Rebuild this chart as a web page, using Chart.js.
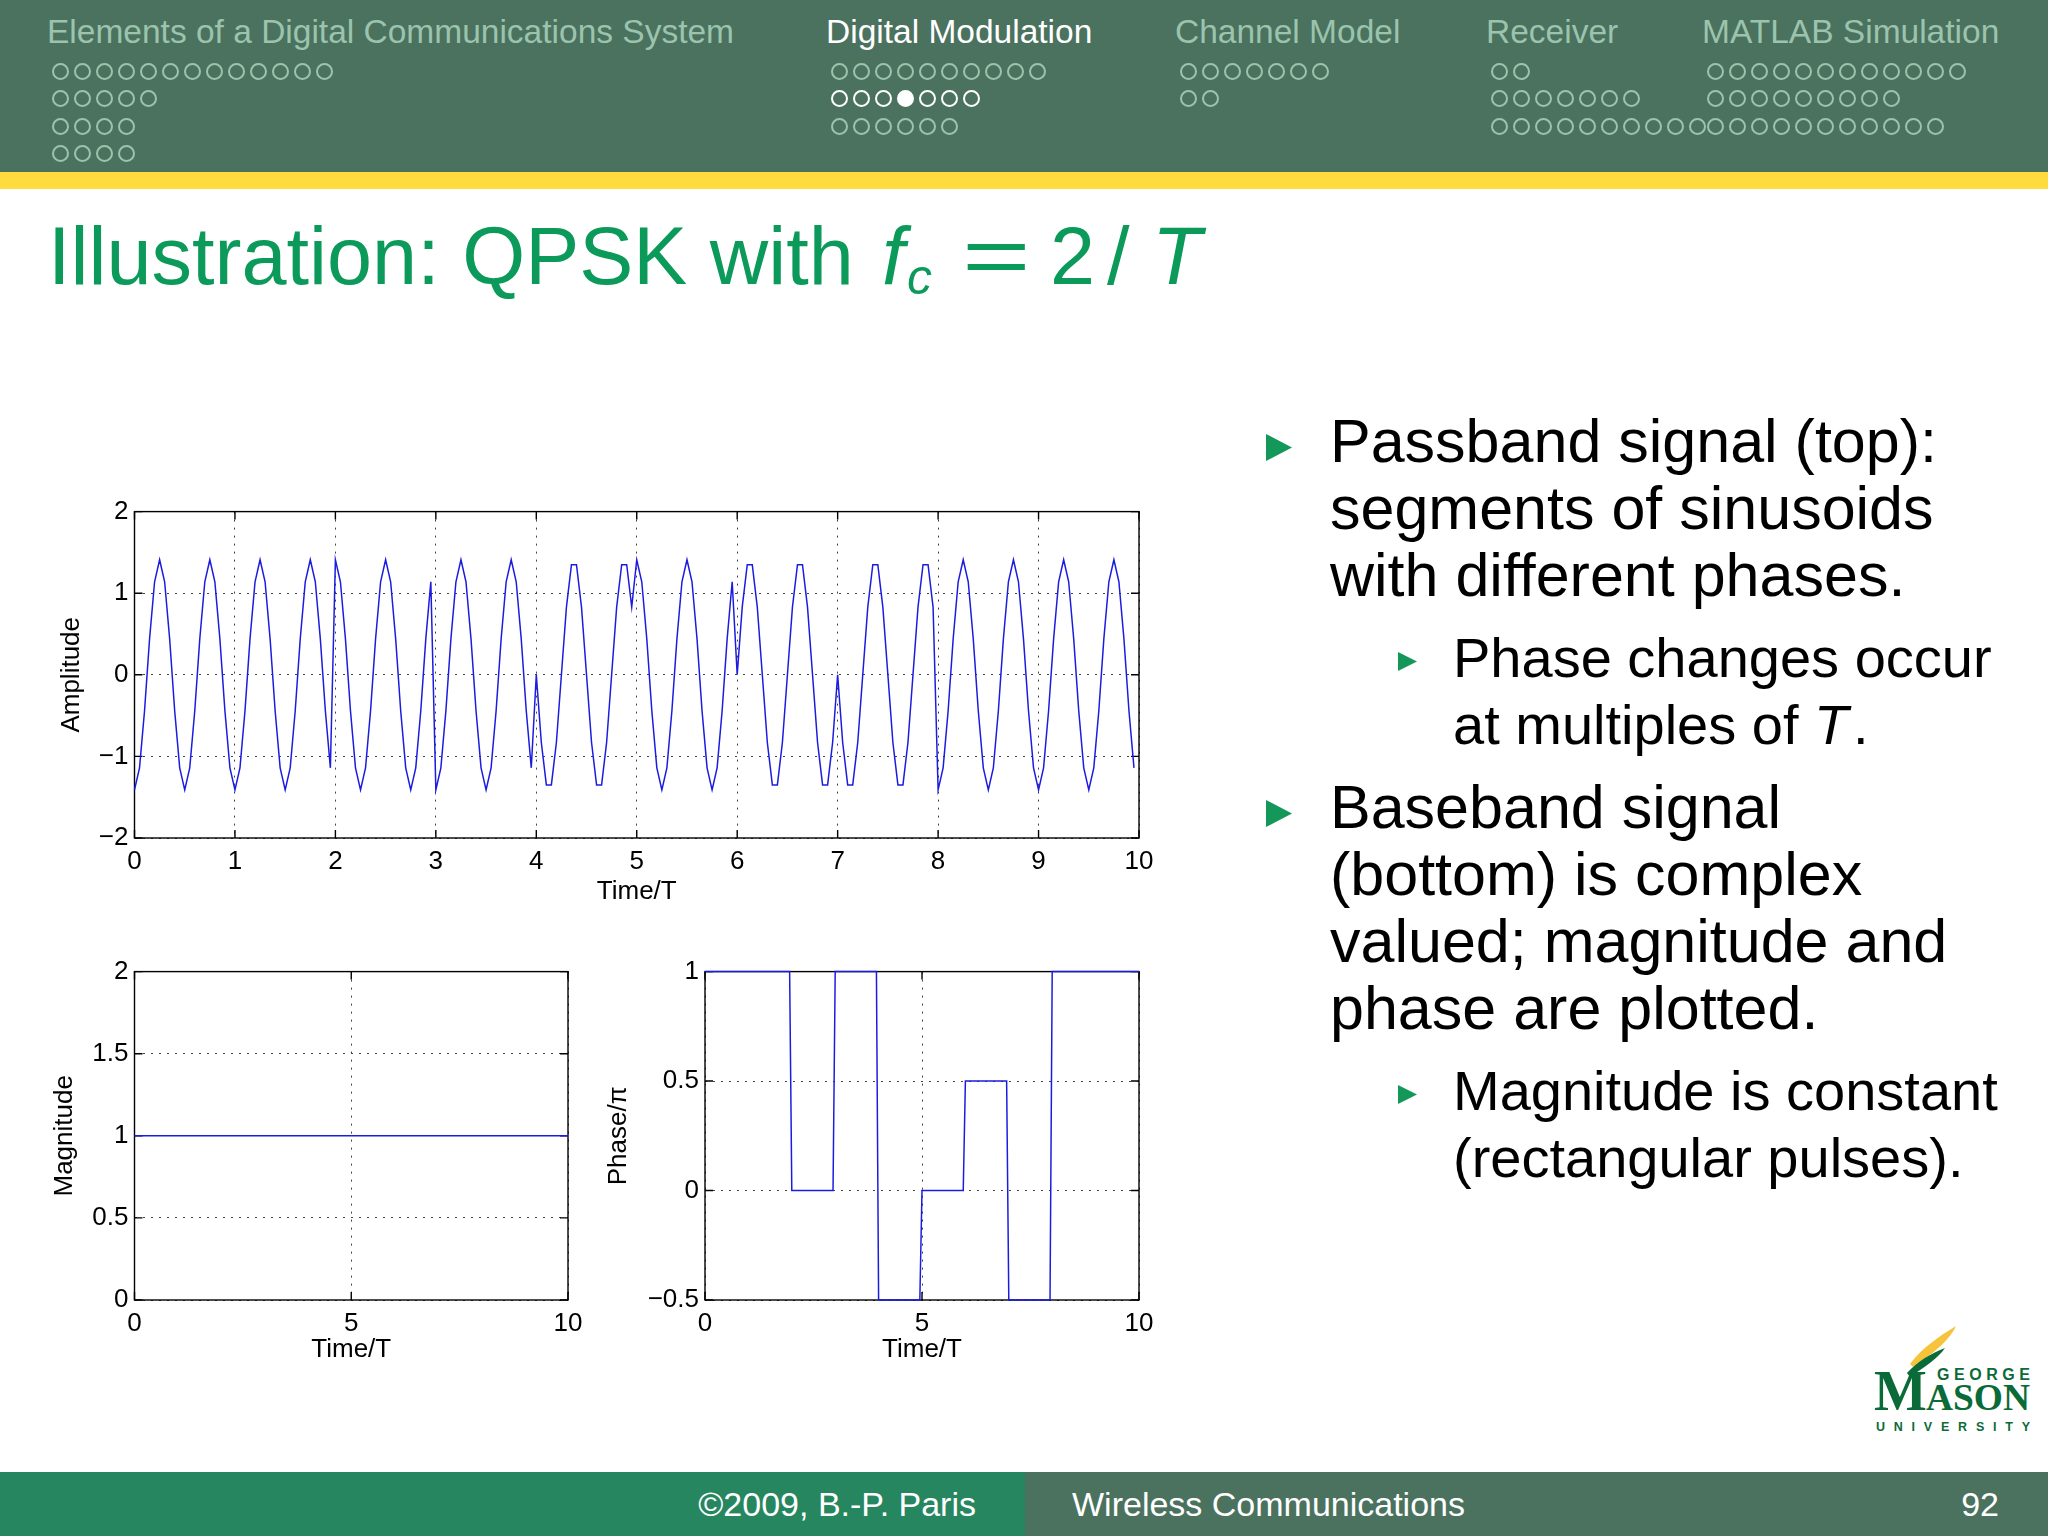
<!DOCTYPE html>
<html><head><meta charset="utf-8">
<script src="https://cdn.jsdelivr.net/npm/chart.js@4.4.1/dist/chart.umd.min.js"></script>
<style>
html,body{margin:0;padding:0;width:2048px;height:1536px;overflow:hidden;background:#fff;font-family:"Liberation Sans",Arial,sans-serif;}
.abs{position:absolute;white-space:nowrap;line-height:1;}
.band{position:absolute;}
.dot{position:absolute;width:13px;height:13px;border-radius:50%;border:2px solid #9cc3ad;box-sizing:content-box;}
canvas{position:absolute;}
</style>
</head><body>
<div class="band" style="left:0;top:0;width:2048px;height:172px;background:#4a725e"></div>
<div class="band" style="left:0;top:172px;width:2048px;height:17px;background:#fedc3e"></div>
<div class="band" style="left:0;top:1472px;width:1025px;height:64px;background:#268660"></div>
<div class="band" style="left:1025px;top:1472px;width:1023px;height:64px;background:#4a725e"></div>

<canvas id="cTop" width="1140" height="420" style="left:40px;top:490px;width:1140px;height:420px"></canvas>
<canvas id="cMag" width="580" height="420" style="left:20px;top:950px;width:580px;height:420px"></canvas>
<canvas id="cPh" width="580" height="420" style="left:600px;top:950px;width:580px;height:420px"></canvas>

<svg style="position:absolute;left:1860px;top:1315px" width="185" height="125" viewBox="0 0 185 125">
  <path d="M50,49 C62,33 78,22 96,11 C90,24 76,37 53,52 Z" fill="#f6c33a"/>
  <path d="M47,58 C58,46 70,39 85,33 C78,43 66,51 50,62 Z" fill="#0b6b38"/>
  <text x="14" y="95" font-family="Liberation Serif" font-weight="bold" font-size="56" fill="#0b6b38">M</text>
  <text x="66" y="95" font-family="Liberation Serif" font-weight="bold" font-size="38" fill="#0b6b38" textLength="104" lengthAdjust="spacingAndGlyphs">ASON</text>
  <text x="77" y="65" font-family="Liberation Sans" font-weight="bold" font-size="16" fill="#0b6b38" textLength="93">GEORGE</text>
  <text x="16" y="116" font-family="Liberation Sans" font-weight="bold" font-size="12.5" fill="#0b6b38" textLength="154">UNIVERSITY</text>
</svg>

<script>
// ---------------- data ----------------
// passband signal, 20 samples per symbol period T (t = 0 ... 9.95)
const amplitude = [
  -1.41,-1.14,-0.44,0.44,1.14,1.41,1.14,0.44,-0.44,-1.14, -1.41,-1.14,-0.44,0.44,1.14,1.41,1.14,0.44,-0.44,-1.14,
  -1.41,-1.14,-0.44,0.44,1.14,1.41,1.14,0.44,-0.44,-1.14, -1.41,-1.14,-0.44,0.44,1.14,1.41,1.14,0.44,-0.44,-1.14,
  1.41,1.14,0.44,-0.44,-1.14,-1.41,-1.14,-0.44,0.44,1.14, 1.41,1.14,0.44,-0.44,-1.14,-1.41,-1.14,-0.44,0.44,1.14,
  -1.41,-1.14,-0.44,0.44,1.14,1.41,1.14,0.44,-0.44,-1.14, -1.41,-1.14,-0.44,0.44,1.14,1.41,1.14,0.44,-0.44,-1.14,
  0,-0.83,-1.35,-1.35,-0.83,0,0.83,1.35,1.35,0.83, 0,-0.83,-1.35,-1.35,-0.83,0,0.83,1.35,1.35,0.83,
  1.41,1.14,0.44,-0.44,-1.14,-1.41,-1.14,-0.44,0.44,1.14, 1.41,1.14,0.44,-0.44,-1.14,-1.41,-1.14,-0.44,0.44,1.14,
  0,0.83,1.35,1.35,0.83,0,-0.83,-1.35,-1.35,-0.83, 0,0.83,1.35,1.35,0.83,0,-0.83,-1.35,-1.35,-0.83,
  0,-0.83,-1.35,-1.35,-0.83,0,0.83,1.35,1.35,0.83, 0,-0.83,-1.35,-1.35,-0.83,0,0.83,1.35,1.35,0.83,
  -1.41,-1.14,-0.44,0.44,1.14,1.41,1.14,0.44,-0.44,-1.14, -1.41,-1.14,-0.44,0.44,1.14,1.41,1.14,0.44,-0.44,-1.14,
  -1.41,-1.14,-0.44,0.44,1.14,1.41,1.14,0.44,-0.44,-1.14, -1.41,-1.14,-0.44,0.44,1.14,1.41,1.14,0.44,-0.44,-1.14
];
const samplesPerT = 20;
const magnitudeTimes = [0, 10];
const magnitudeValues = [1, 1];
const phaseTimes  = [0, 1.95, 2, 2.95, 3, 3.95, 4, 4.95, 5, 5.95, 6, 6.95, 7, 7.95, 8, 10];
const phaseValues = [1, 1,    0, 0,    1, 1,    -0.5, -0.5, 0, 0, 0.5, 0.5, -0.5, -0.5, 1, 1];

// ---------------- slide text ----------------
const sectionNames = ["Elements of a Digital Communications System","Digital Modulation","Channel Model","Receiver","MATLAB Simulation"];
const sectionX = [47, 826, 1175, 1486, 1702];
const sectionDots = [[13,5,4,4],[10,7,6],[7,2],[2,7,10],[12,9,11]];
const activeSection = 1, activeRow = 1, activeDot = 3;

function place(html, x, baseline, size, color, extra){
  const d=document.createElement('div');
  d.className='abs';
  d.style.left=x+'px';
  d.style.top=(baseline-0.8465*size)+'px';
  d.style.fontSize=size+'px';
  d.style.color=color;
  d.innerHTML=html;
  if(extra) Object.assign(d.style, extra);
  document.body.appendChild(d);
  return d;
}
const DIM='#9cc3ad';
sectionNames.forEach((n,i)=>{
  place(n, sectionX[i], 43, 33.5, i===activeSection?'#ffffff':DIM);
  sectionDots[i].forEach((cnt,r)=>{
    for(let k=0;k<cnt;k++){
      const d=document.createElement('div');
      d.className='dot';
      const cx=sectionX[i]+13+k*22, cy=71+r*27.5;
      d.style.left=(cx-8.5)+'px'; d.style.top=(cy-8.5)+'px';
      if(i===activeSection && r===activeRow){
        d.style.borderColor='#ffffff';
        if(k===activeDot) d.style.background='#ffffff';
      }
      document.body.appendChild(d);
    }
  });
});

// title
const G='#0b9a5a';
place('Illustration: QPSK with', 48, 285, 81, G);
place('<i>f</i>', 882, 285, 81, G);
place('<i>c</i>', 907, 294, 50, G);
place('=', 962, 285, 81, G, {transform:'scaleX(1.45)',transformOrigin:'left'});
place('2', 1050, 285, 81, G);
place('/', 1107, 285, 81, G);
place('<i>T</i>', 1152, 285, 81, G);

// bullets
const mainLines = [["Passband signal (top):",463,true],["segments of sinusoids",530],["with different phases.",597],
                   ["Baseband signal",829,true],["(bottom) is complex",896],["valued; magnitude and",963],["phase are plotted.",1030]];
const subLines = [["Phase changes occur",677,true],["at multiples of <i>T</i>&#8202;.",744],
                  ["Magnitude is constant",1110,true],["(rectangular pulses).",1177]];
function tri(x,cy,w,h){
  const s=document.createElementNS('http://www.w3.org/2000/svg','svg');
  s.setAttribute('width',w); s.setAttribute('height',h);
  s.style.position='absolute'; s.style.left=x+'px'; s.style.top=(cy-h/2)+'px';
  s.innerHTML=`<polygon points="0,0 ${w},${h/2} 0,${h}" fill="#14985a"/>`;
  document.body.appendChild(s);
}
mainLines.forEach(([t,b,bul])=>{ place(t,1330,b,61,'#000'); if(bul) tri(1266,b-16,26,27); });
subLines.forEach(([t,b,bul])=>{ place(t,1453,b,56,'#000'); if(bul) tri(1398,b-16,19,19); });

// footer
place('©2009, B.-P. Paris', 0, 1516, 34, '#fff', {left:'auto', right:(2048-976)+'px'});
place('Wireless Communications', 1072, 1516, 34, '#fff');
place('92', 0, 1516, 34, '#fff', {left:'auto', right:(2048-1999)+'px'});

// ---------------- charts ----------------
const FONT = "'Liberation Sans', Arial, sans-serif";
const fmt = v => (v < 0 ? '\u2212' + String(-v) : String(v));
const boxPlugin = {
  id:'matlabBox',
  beforeDatasetsDraw(chart){
    const {ctx, chartArea:a, scales:{x,y}} = chart;
    ctx.save();
    ctx.strokeStyle='#000'; ctx.lineWidth=1.4;
    ctx.strokeRect(a.left, a.top, a.right-a.left, a.bottom-a.top);
    const L=8;
    ctx.beginPath();
    x.ticks.forEach(t=>{const px=x.getPixelForValue(t.value); ctx.moveTo(px,a.bottom); ctx.lineTo(px,a.bottom-L); ctx.moveTo(px,a.top); ctx.lineTo(px,a.top+L);});
    y.ticks.forEach(t=>{const py=y.getPixelForValue(t.value); ctx.moveTo(a.left,py); ctx.lineTo(a.left+L,py); ctx.moveTo(a.right,py); ctx.lineTo(a.right-L,py);});
    ctx.stroke();
    ctx.restore();
  }
};
function xScale(step, h, pb){
  return {type:'linear',min:0,max:10,
    ticks:{stepSize:step,padding:8,color:'#000',font:{size:26,family:FONT},maxRotation:0,autoSkip:false,callback:fmt},
    grid:{color:'#444',drawTicks:false,lineWidth:1},border:{display:false,dash:[2,6]},
    title:{display:true,text:'Time/T',color:'#000',font:{size:26,family:FONT},padding:{top:0,bottom:pb}},
    afterFit(s){s.height=h;}};
}
function yScale(min,max,step,title,w,pt){
  return {type:'linear',min,max,
    ticks:{stepSize:step,padding:6,color:'#000',font:{size:26,family:FONT},callback:fmt},
    grid:{color:'#444',drawTicks:false,lineWidth:1},border:{display:false,dash:[2,6]},
    title:{display:true,text:title,color:'#000',font:{size:26,family:FONT},padding:{top:pt,bottom:0}},
    afterFit(s){s.width=w;}};
}
function lineDs(pts){
  return {data:pts,borderColor:'#1c1ce0',borderWidth:1.5,pointRadius:0,tension:0,fill:false,clip:4};
}
const baseOpts = (pad, xs, ys) => ({
  responsive:false, animation:false, devicePixelRatio:1,
  layout:{padding:pad},
  plugins:{legend:{display:false},tooltip:{enabled:false}},
  scales:{x:xs, y:ys}
});

const topPts = amplitude.map((v,i)=>({x:i/samplesPerT, y:v}));
new Chart(document.getElementById('cTop'), {
  type:'line', data:{datasets:[lineDs(topPts)]},
  options: baseOpts({top:17,right:41,left:0,bottom:0}, xScale(1,72,2.4), yScale(-2,2,1,'Amplitude',94.5,16.4)),
  plugins:[boxPlugin]
});
new Chart(document.getElementById('cMag'), {
  type:'line', data:{datasets:[lineDs(magnitudeTimes.map((t,i)=>({x:t,y:magnitudeValues[i]})))]},
  options: baseOpts({top:18,right:32,left:0,bottom:0}, xScale(5,70,4.4), yScale(0,2,0.5,'Magnitude',114.5,29.4)),
  plugins:[boxPlugin]
});
new Chart(document.getElementById('cPh'), {
  type:'line', data:{datasets:[lineDs(phaseTimes.map((t,i)=>({x:t,y:phaseValues[i]})))]},
  options: baseOpts({top:18,right:41,left:0,bottom:0}, xScale(5,70,4.4), yScale(-0.5,1,0.5,'Phase/\u03c0',105,3.4)),
  plugins:[boxPlugin]
});
</script>
</body></html>
